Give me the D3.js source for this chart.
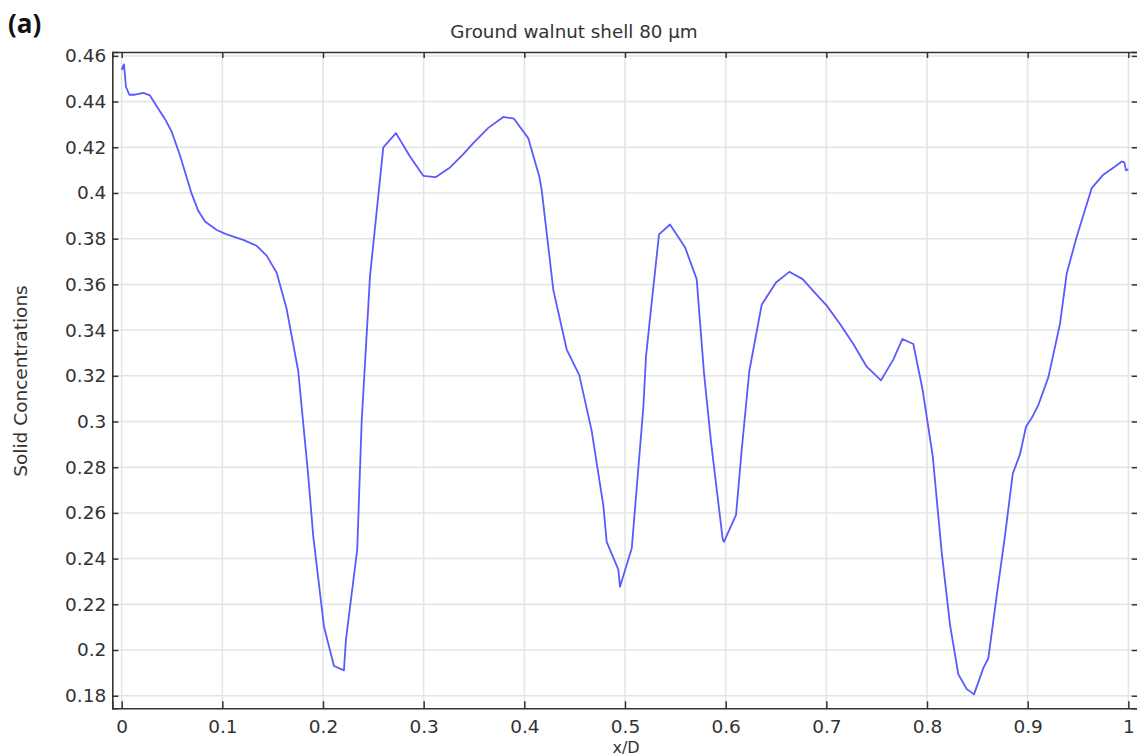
<!DOCTYPE html>
<html>
<head>
<meta charset="utf-8">
<script src="https://cdn.jsdelivr.net/npm/d3@7"></script>
<style>
body { margin: 0; background: #fff; }
text { font-family: "DejaVu Sans", sans-serif; fill: #333; }
</style>
</head>
<body>
<div id="canvas"></div>
<script>
// ---------------- DATA ----------------
var xs = [
0.000, 0.0023, 0.0043, 0.0076, 0.0132, 0.0215, 0.0281, 0.0348, 0.043, 0.0497,
0.0579, 0.0695, 0.0761, 0.0828, 0.0944, 0.1043, 0.1208, 0.1341, 0.144, 0.154,
0.1639, 0.1754, 0.1854, 0.1904, 0.201, 0.2109, 0.2208, 0.2228, 0.234, 0.2384,
0.2467, 0.2599, 0.2725, 0.2864, 0.2996, 0.3119, 0.3262, 0.3394, 0.3493, 0.3642,
0.3791, 0.3897, 0.404, 0.4149, 0.4172, 0.4288, 0.4421, 0.4546, 0.4669, 0.4785,
0.4818, 0.4934, 0.495, 0.5067, 0.5116, 0.5182, 0.5209, 0.5265, 0.5338, 0.5447,
0.5596, 0.5712, 0.5785, 0.5854, 0.5971, 0.5984, 0.6103, 0.6159, 0.6235, 0.6358,
0.65, 0.6632, 0.6765, 0.6871, 0.7004, 0.7136, 0.7268, 0.7401, 0.7543, 0.7666,
0.7755, 0.7864, 0.7957, 0.8057, 0.8146, 0.8229, 0.8311, 0.8395, 0.8467, 0.856,
0.8609, 0.8693, 0.8775, 0.8852, 0.8924, 0.8984, 0.904, 0.9106, 0.9205, 0.9321,
0.9388, 0.9487, 0.9636, 0.9752, 0.9868, 0.9934, 0.996, 0.9977, 1.0
];
var ys = [
0.4539, 0.4563, 0.4464, 0.443, 0.443, 0.4438, 0.4427, 0.438, 0.4324, 0.4268,
0.4165, 0.3997, 0.3922, 0.3875, 0.3838, 0.3819, 0.3795, 0.3769, 0.3726, 0.3651,
0.3492, 0.3221, 0.2760, 0.2494, 0.2102, 0.1930, 0.1911, 0.2046, 0.2439, 0.2999,
0.3636, 0.4200, 0.4262, 0.4160, 0.4075, 0.4069, 0.4112, 0.4170, 0.4218, 0.4285,
0.4333, 0.4325, 0.4239, 0.4071, 0.4015, 0.3576, 0.3315, 0.3203, 0.2959, 0.2632,
0.2473, 0.2352, 0.2277, 0.2445, 0.2707, 0.3062, 0.3286, 0.3520, 0.3819, 0.3862,
0.3763, 0.3623, 0.3211, 0.2913, 0.2483, 0.2474, 0.2591, 0.2875, 0.3221, 0.3511,
0.3608, 0.3655, 0.3623, 0.3571, 0.3507, 0.3427, 0.3339, 0.3240, 0.3180, 0.3272,
0.3361, 0.3339, 0.3137, 0.2848, 0.2427, 0.2109, 0.1894, 0.1829, 0.1806, 0.1922,
0.1963, 0.2240, 0.2501, 0.2772, 0.2857, 0.2978, 0.3015, 0.3072, 0.3193, 0.3427,
0.3648, 0.3809, 0.4021, 0.4080, 0.4116, 0.4138, 0.4134, 0.4099, 0.4104
];
var xTicks = [0, 0.1, 0.2, 0.3, 0.4, 0.5, 0.6, 0.7, 0.8, 0.9, 1];
var xTickLabels = ["0", "0.1", "0.2", "0.3", "0.4", "0.5", "0.6", "0.7", "0.8", "0.9", "1"];
var yTicks = [0.18, 0.2, 0.22, 0.24, 0.26, 0.28, 0.3, 0.32, 0.34, 0.36, 0.38, 0.4, 0.42, 0.44, 0.46];
var yTickLabels = ["0.18", "0.2", "0.22", "0.24", "0.26", "0.28", "0.3", "0.32", "0.34", "0.36", "0.38", "0.4", "0.42", "0.44", "0.46"];

var points = xs.map(function(x, i) { return {x: x, y: ys[i]}; });

// ---------------- LAYOUT ----------------
var W = 1137, H = 756;
var plot = {left: 112.3, right: 1137.7, top: 52, bottom: 708.3};

var svg = d3.select("#canvas").append("svg")
.attr("width", W)
.attr("height", H);

// ---------------- SCALES ----------------
var xScale = d3.scaleLinear()
.domain([-0.0093, 1.0093])
.range([plot.left, plot.right]);
var yScale = d3.scaleLinear()
.domain([0.1745, 0.4617])
.range([plot.bottom, plot.top]);

// ---------------- GRID ----------------
var grid = svg.append("g").attr("class", "grid");
grid.selectAll(".vgrid")
.data(xTicks)
.enter().append("line")
.attr("x1", function(d) { return xScale(d); })
.attr("x2", function(d) { return xScale(d); })
.attr("y1", plot.top)
.attr("y2", plot.bottom)
.style("stroke", "#e4e4e4").style("stroke-width", 1.5);
grid.selectAll(".hgrid")
.data(yTicks)
.enter().append("line")
.attr("x1", plot.left)
.attr("x2", plot.right)
.attr("y1", function(d) { return yScale(d); })
.attr("y2", function(d) { return yScale(d); })
.style("stroke", "#e4e4e4").style("stroke-width", 1.5);

// ---------------- LINE ----------------
var line = d3.line()
.x(function(d) { return xScale(d.x); })
.y(function(d) { return yScale(d.y); });
svg.append("path")
.datum(points)
.attr("d", line)
.style("fill", "none").style("stroke", "#5a5aff").style("stroke-width", 1.8)
.style("stroke-linejoin", "round");

// ---------------- AXES ----------------
// bottom
var xAxis = d3.axisBottom(xScale).tickValues(xTicks).tickSize(-7).tickPadding(12)
.tickFormat(function(d, i) { return xTickLabels[i]; });
svg.append("g")
.attr("transform", "translate(0," + plot.bottom + ")")
.call(customAxis, xAxis);
// top
var xAxisTop = d3.axisTop(xScale).tickValues(xTicks).tickSize(-6).tickFormat("");
svg.append("g")
.attr("transform", "translate(0," + plot.top + ")")
.call(customAxis, xAxisTop);
// left
var yAxis = d3.axisLeft(yScale).tickValues(yTicks).tickSize(-6).tickPadding(6)
.tickFormat(function(d, i) { return yTickLabels[i]; });
svg.append("g")
.attr("transform", "translate(" + plot.left + ",0)")
.call(customAxis, yAxis);
// right
var yAxisRight = d3.axisRight(yScale).tickValues(yTicks).tickSize(-6).tickFormat("");
svg.append("g")
.attr("transform", "translate(" + plot.right + ",0)")
.call(customAxis, yAxisRight);

function customAxis(g, axis) {
g.call(axis);
g.select(".domain").attr("stroke", "#333").attr("stroke-width", 1.6);
g.selectAll(".tick line").attr("stroke", "#333").attr("stroke-width", 1.5);
g.selectAll(".tick text").style("font-size", "18.5px").style("fill", "#333")
.style("font-family", "'DejaVu Sans', sans-serif");
}

// ---------------- TEXT ----------------
svg.append("text")
.attr("x", 574).attr("y", 38)
.attr("text-anchor", "middle")
.style("font-size", "18.3px")
.text("Ground walnut shell 80 \u00b5m");

svg.append("text")
.attr("transform", "translate(27," + 381 + ") rotate(-90)")
.attr("text-anchor", "middle")
.style("font-size", "18.5px")
.text("Solid Concentrations");

svg.append("text")
.attr("x", 626).attr("y", 753)
.attr("text-anchor", "middle")
.style("font-size", "16px")
.text("x/D");

svg.append("text")
.attr("x", 8).attr("y", 33)
.style("font-family", "'Open Sans', 'Liberation Sans', sans-serif")
.style("font-weight", "bold")
.style("font-size", "26px")
.style("fill", "#111")
.text("(a)");
</script>
</body>
</html>
